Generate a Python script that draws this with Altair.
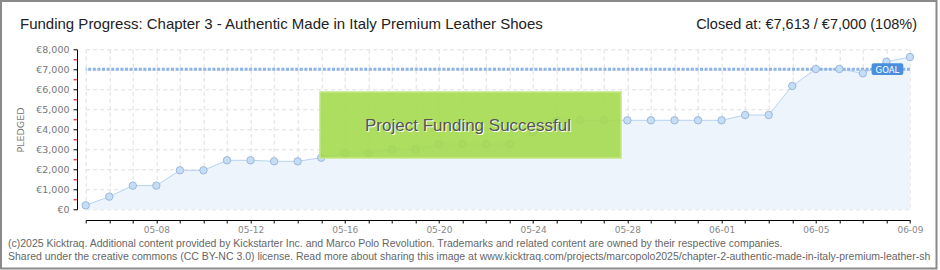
import altair as alt
import pandas as pd

# ---------------- data ----------------
dates = [
    "2025-05-05", "2025-05-06", "2025-05-07", "2025-05-08", "2025-05-09", "2025-05-10",
    "2025-05-11", "2025-05-12", "2025-05-13", "2025-05-14", "2025-05-15", "2025-05-16",
    "2025-05-17", "2025-05-18", "2025-05-19", "2025-05-20", "2025-05-21", "2025-05-22",
    "2025-05-23", "2025-05-24", "2025-05-25", "2025-05-26", "2025-05-27", "2025-05-28",
    "2025-05-29", "2025-05-30", "2025-05-31", "2025-06-01", "2025-06-02", "2025-06-03",
    "2025-06-04", "2025-06-05", "2025-06-06", "2025-06-07", "2025-06-08", "2025-06-09",
]
pledged = [
    200, 633, 1183, 1183, 1950, 1950, 2450, 2450, 2400, 2400,
    2580, 2815, 2815, 3000, 3000, 3265, 3265, 3265, 3265, 3860,
    4450, 4450, 4450, 4450, 4450, 4450, 4450, 4450, 4715, 4715,
    6165, 7015, 7015, 6800, 7380, 7613,
]
x_labels = ["05-08", "05-12", "05-16", "05-20", "05-24", "05-28", "06-01", "06-05", "06-09"]
y_ticks = [0, 500, 1000, 1500, 2000, 2500, 3000, 3500, 4000, 4500, 5000, 5500, 6000, 6500, 7000, 7500, 8000]
goal = 7000

TITLE = "Funding Progress: Chapter 3 - Authentic Made in Italy Premium Leather Shoes"
CLOSED = "Closed at:  €7,613 /  €7,000 (108%)"
SUCCESS = "Project Funding Successful"
FOOT1 = ("(c)2025 Kicktraq. Additional content provided by Kickstarter Inc. and Marco Polo Revolution. "
         "Trademarks and related content are owned by their respective companies.")
FOOT2 = ("Shared under the creative commons (CC BY-NC 3.0) license. Read more about sharing this image at "
         "www.kicktraq.com/projects/marcopolo2025/chapter-2-authentic-made-in-italy-premium-leather-shoes/")

# ---------------- layout ----------------
PL, PT, W, H = 85.7, 49.3, 824.3, 160.0
FONT = "Liberation Sans"

df = pd.DataFrame({"date": dates, "pledged": pledged})
goal_df = pd.DataFrame({"pledged": [goal]})
ms = [int(pd.Timestamp(d, tz="UTC").timestamp() * 1000) for d in dates]
one = pd.DataFrame({"a": [0]})

lab_list = "[" + ",".join("'%s'" % s for s in x_labels) + "]"
x_enc = alt.X(
    "date:T",
    scale=alt.Scale(type="utc", domain=[ms[0], ms[-1]], nice=False),
    axis=alt.Axis(
        values=ms,
        labelExpr="indexof(%s, utcFormat(datum.value, '%%m-%%d')) >= 0 ? utcFormat(datum.value, '%%m-%%d') : ''" % lab_list,
        title=None, offset=10.7, tickSize=3, tickColor="#000", domainColor="#000",
        labelColor="#888", labelFontSize=9, labelPadding=2, labelFont="DejaVu Sans",
        labelFlush=False, labelOverlap=False,
        grid=True, gridColor="#dedede", gridDash=[4, 3],
    ),
)
y_enc = alt.Y(
    "pledged:Q",
    scale=alt.Scale(domain=[0, 8000], nice=False),
    axis=alt.Axis(
        values=y_ticks,
        labelExpr="datum.value % 1000 == 0 ? '€' + format(datum.value, ',') : ''",
        title=None, offset=8.7, tickSize=4,
        tickColor={"condition": {"test": "datum.value % 1000 != 0", "value": "#e00000"}, "value": "#000"},
        domainColor="#000", labelColor="#777", labelFontSize=9.5, labelPadding=4,
        labelFont="DejaVu Sans",
        grid=True, gridColor="#dedede", gridDash=[4, 3],
        gridOpacity={"condition": {"test": "datum.value % 1000 != 0", "value": 0}, "value": 1},
    ),
)

area = alt.Chart(df).mark_area(
    color="#edf4fc", opacity=1,
    line={"color": "#b6d3f1", "strokeWidth": 1},
).encode(x=x_enc, y=y_enc)

goal_rule = alt.Chart(goal_df).mark_rule(
    color="#8db4e6", strokeWidth=3, strokeDash=[3, 1.6]
).encode(y=y_enc)

points = alt.Chart(df).mark_point(
    filled=True, fill="#c6ddf6", stroke="#9bb8dc", strokeWidth=1, opacity=1, size=55
).encode(x=x_enc, y=y_enc)

box = alt.Chart(one).mark_rect(
    fill="#a3d94a", fillOpacity=0.88, stroke="#c2e782", strokeWidth=1.5
).encode(x=alt.value(234.3), x2=alt.value(535.3), y=alt.value(42.7), y2=alt.value(108.7))

succ_shadow = alt.Chart(one).mark_text(
    text=SUCCESS, font=FONT, fontSize=17, color="#ffffff", align="center", baseline="middle"
).encode(x=alt.value(383.3), y=alt.value(77.2))
succ = alt.Chart(one).mark_text(
    text=SUCCESS, font=FONT, fontSize=17, color="#555555", align="center", baseline="middle"
).encode(x=alt.value(382.3), y=alt.value(76.2))

goal_box = alt.Chart(one).mark_rect(fill="#4a8fde", cornerRadius=2).encode(
    x=alt.value(785.9), x2=alt.value(817.6), y=alt.value(14.0), y2=alt.value(25.7)
)
goal_txt = alt.Chart(one).mark_text(
    text="GOAL", font="DejaVu Sans", fontSize=8.5, color="#ffffff", align="center", baseline="middle"
).encode(x=alt.value(801.7), y=alt.value(20.2))

title = alt.Chart(one).mark_text(
    text=TITLE, font=FONT, fontSize=15, color="#222222", align="left", baseline="alphabetic"
).encode(x=alt.value(20 - PL), y=alt.value(29 - PT))
closed = alt.Chart(one).mark_text(
    text=CLOSED, font=FONT, fontSize=14.5, color="#222222", align="right", baseline="alphabetic"
).encode(x=alt.value(917 - PL), y=alt.value(29 - PT))

pledged_lbl = alt.Chart(one).mark_text(
    text="PLEDGED", font="DejaVu Sans", fontSize=9.5, color="#777777", angle=270,
    align="center", baseline="middle"
).encode(x=alt.value(21 - PL), y=alt.value(130 - PT))

foot1 = alt.Chart(one).mark_text(
    text=FOOT1, font=FONT, fontSize=10.5, color="#666666", align="left", baseline="alphabetic"
).encode(x=alt.value(8 - PL), y=alt.value(246.5 - PT))
foot2 = alt.Chart(one).mark_text(
    text=FOOT2, font=FONT, fontSize=10.5, color="#666666", align="left", baseline="alphabetic",
    limit=926, ellipsis="\u200b"
).encode(x=alt.value(8 - PL), y=alt.value(259.5 - PT))

frame = alt.Chart(one).mark_rect(
    fillOpacity=0, stroke="#8a8a8a", strokeWidth=2
).encode(x=alt.value(1 - PL), x2=alt.value(936.5 - PL), y=alt.value(1 - PT), y2=alt.value(268.5 - PT))

chart = alt.layer(
    area, goal_rule, points, box, succ_shadow, succ, goal_box, goal_txt,
    title, closed, pledged_lbl, foot1, foot2, frame,
).properties(
    width=W, height=H,
    padding={"left": PL, "top": PT, "right": 940 - PL - W, "bottom": 270 - PT - H},
    autosize=alt.AutoSizeParams(type="none"),
    background="#ffffff",
).configure_view(stroke=None)

chart.save("out.html", embed_options={"renderer": "svg", "actions": False})
